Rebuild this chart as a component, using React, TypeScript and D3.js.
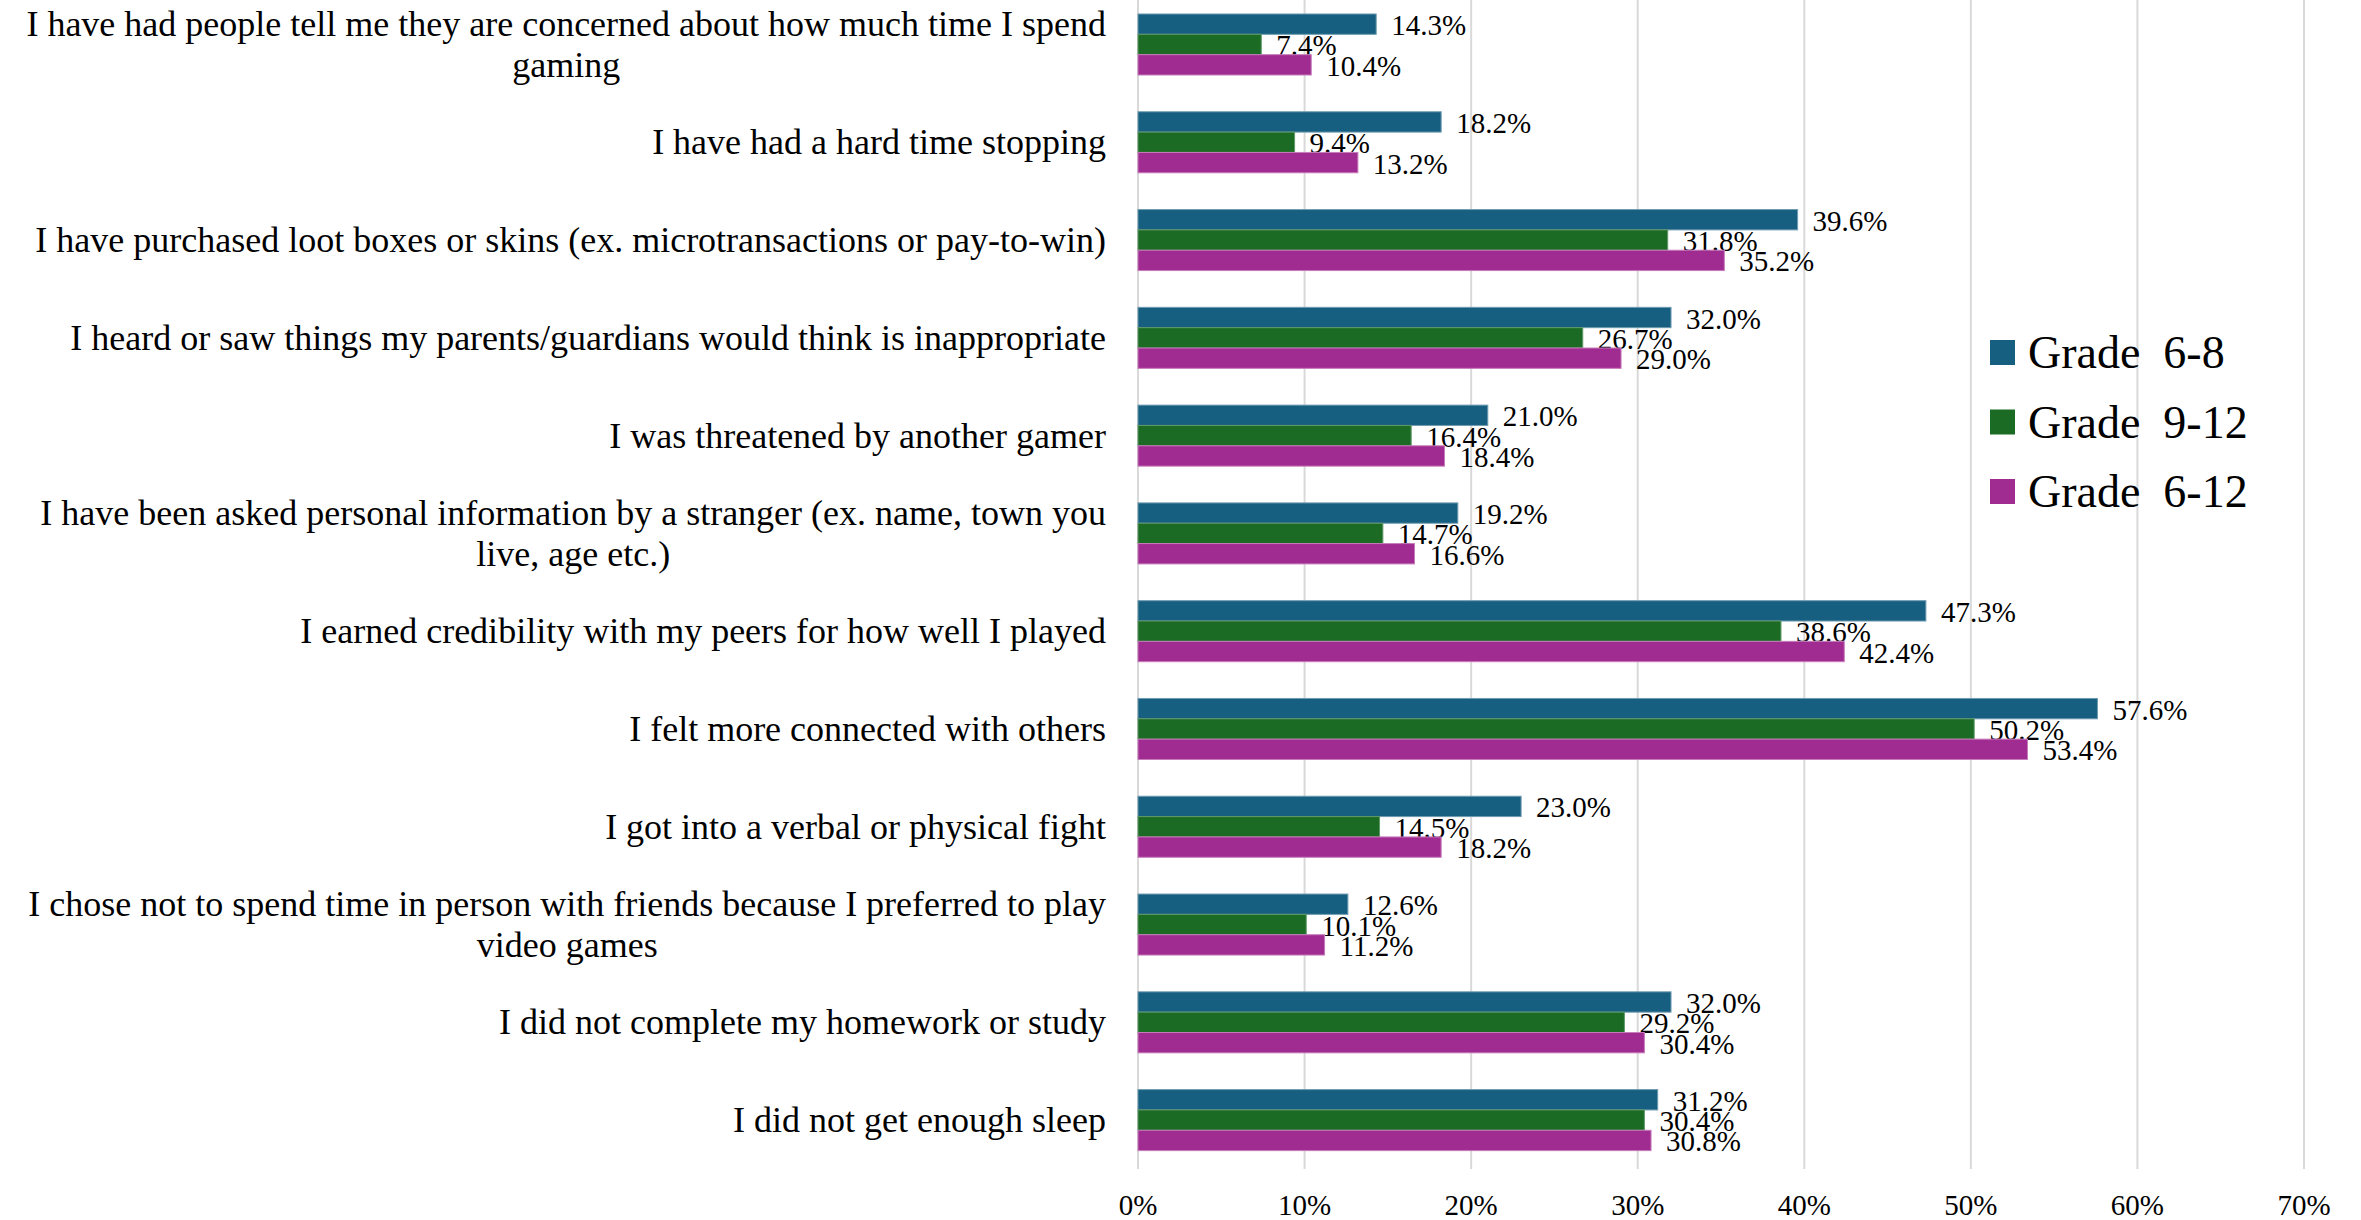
import React from "react";
import * as d3 from "d3";

const categoryLines: string[][] = [
  ["I have had people tell me they are concerned about how much time I spend", "gaming"],
  ["I have had a hard time stopping"],
  ["I have purchased loot boxes or skins (ex. microtransactions or pay-to-win)"],
  ["I heard or saw things my parents/guardians would think is inappropriate"],
  ["I was threatened by another gamer"],
  ["I have been asked personal information by a stranger (ex. name, town you", "live, age etc.)"],
  ["I earned credibility with my peers for how well I played"],
  ["I felt more connected with others"],
  ["I got into a verbal or physical fight"],
  ["I chose not to spend time in person with friends because I preferred to play", "video games"],
  ["I did not complete my homework or study"],
  ["I did not get enough sleep"],
];

const seriesNames = ["Grade\u00a0\u00a06-8", "Grade\u00a0\u00a09-12", "Grade\u00a0\u00a06-12"];
const grade68 = [14.3, 18.2, 39.6, 32.0, 21.0, 19.2, 47.3, 57.6, 23.0, 12.6, 32.0, 31.2];
const grade912 = [7.4, 9.4, 31.8, 26.7, 16.4, 14.7, 38.6, 50.2, 14.5, 10.1, 29.2, 30.4];
const grade612 = [10.4, 13.2, 35.2, 29.0, 18.4, 16.6, 42.4, 53.4, 18.2, 11.2, 30.4, 30.8];
const xTicks = [0, 10, 20, 30, 40, 50, 60, 70];

const colors = ["#175f80", "#1c6b25", "#a02c91"];
const strokes = ["#6f9bb0", "#5e9866", "#c67cbb"];

const W = 2361;
const H = 1220;
const FONT = "'Liberation Serif', 'Times New Roman', serif";

function measure(text: string, size: number): number {
  const c = document.createElement("canvas");
  const ctx = c.getContext("2d");
  if (!ctx) return text.length * size * 0.42;
  ctx.font = `${size}px ${FONT}`;
  return ctx.measureText(text).width;
}

export default function App() {
  const series = [grade68, grade912, grade612];
  const idx = categoryLines.map((_, i) => String(i));
  const x = d3.scaleLinear().domain([0, 70]).range([1138, 2304]);
  const y = d3
    .scaleBand<string>()
    .domain(idx)
    .range([-4.4, 1169])
    .paddingInner(0.376)
    .paddingOuter(0.188);
  const inner = d3
    .scaleBand<string>()
    .domain(["0", "1", "2"])
    .range([0, y.bandwidth()]);

  const labelRight = 1106;
  const catSize = 36;
  const lineH = 41;

  return (
    <svg
      width={W}
      height={H}
      style={{ position: "absolute", left: 0, top: 0, background: "#fff" }}
      fontFamily={FONT}
    >
      <rect x={0} y={0} width={W} height={H} fill="#fff" />
      {xTicks.map((t) => (
        <line
          key={"g" + t}
          x1={x(t)}
          x2={x(t)}
          y1={0}
          y2={1169}
          stroke="#d9d9d9"
          strokeWidth={2}
        />
      ))}
      {xTicks.map((t) => (
        <text
          key={"t" + t}
          x={x(t)}
          y={1215}
          fontSize={29}
          textAnchor="middle"
          fill="#000"
        >
          {t + "%"}
        </text>
      ))}
      {categoryLines.map((lines, i) => {
        const cy = (y(String(i)) as number) + y.bandwidth() / 2;
        const widths = lines.map((l) => measure(l, catSize));
        const maxW = Math.max(...widths);
        const cx = labelRight - maxW / 2;
        const n = lines.length;
        return (
          <g key={"c" + i}>
            {lines.map((l, j) => (
              <text
                key={j}
                x={n > 1 ? cx : labelRight}
                y={cy + (j - (n - 1) / 2) * lineH}
                fontSize={catSize}
                textAnchor={n > 1 ? "middle" : "end"}
                dominantBaseline="central"
                fill="#000"
              >
                {l}
              </text>
            ))}
          </g>
        );
      })}
      {series.map((vals, s) => (
        <g key={"s" + s}>
          {vals.map((v, i) => {
            const by = (y(String(i)) as number) + (inner(String(s)) as number);
            return (
              <rect
                key={"b" + i}
                x={x(0)}
                y={by}
                width={x(v) - x(0)}
                height={inner.bandwidth()}
                fill={colors[s]}
                stroke={strokes[s]}
                strokeWidth={1}
              />
            );
          })}
          {vals.map((v, i) => {
            const by = (y(String(i)) as number) + (inner(String(s)) as number);
            return (
              <text
                key={"l" + i}
                x={x(v) + 15}
                y={by + inner.bandwidth() / 2 + 1}
                fontSize={29}
                dominantBaseline="central"
                fill="#000"
              >
                {v.toFixed(1) + "%"}
              </text>
            );
          })}
        </g>
      ))}
      {seriesNames.map((name, s) => {
        const cy = 352.5 + s * 69.5;
        return (
          <g key={"lg" + s}>
            <rect x={1990} y={cy - 12.5} width={25} height={25} fill={colors[s]} />
            <text
              x={2028}
              y={cy}
              fontSize={46}
              dominantBaseline="central"
              fill="#000"
            >
              {name}
            </text>
          </g>
        );
      })}
    </svg>
  );
}
